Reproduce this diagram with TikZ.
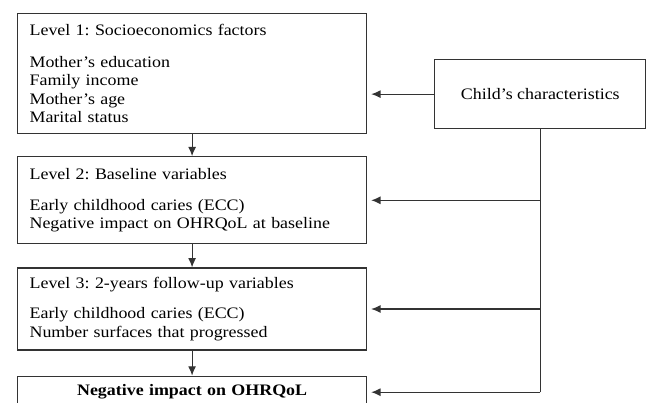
\documentclass[tikz,border=0pt]{standalone}
\usepackage{fontspec}
\setmainfont{Liberation Serif}[FakeStretch=1.12]
\usetikzlibrary{arrows.meta,positioning}
\frenchspacing

\begin{document}
\begin{tikzpicture}[
  x=0.75pt,y=-0.75pt,
  font=\fontsize{12pt}{13.9pt}\selectfont,
  box/.style={draw=black!80,line width=0.9pt,align=center,inner sep=3pt},
  level/.style={box,align=left,text width=243.75pt,inner xsep=9pt,inner ysep=0pt},
  arr/.style={-{Latex[length=7pt,width=6pt]},line width=0.9pt,draw=black!80},
  link/.style={line width=0.9pt,draw=black!80}
]
\clip (0,0) rectangle (646,403);
\node[level, minimum height=90pt, anchor=north west] (lvl1) at (17,13) {Level 1: Socioeconomics factors\\[10pt]Mother’s education\\Family income\\Mother’s age\\Marital status};
\node[level, minimum height=65.25pt, below=16.5pt of lvl1] (lvl2) {Level 2: Baseline variables\\[9pt]Early childhood caries (ECC)\\Negative impact on OHRQoL at baseline};
\node[level, minimum height=61.5pt, below=17.25pt of lvl2] (lvl3) {Level 3: 2-years follow-up variables\\[9pt]Early childhood caries (ECC)\\Number surfaces that progressed};
\node[level, align=center, minimum height=24pt, below=18.75pt of lvl3] (ohrqol) {\bfseries Negative impact on OHRQoL};
\node[box, minimum width=158.25pt, minimum height=51.75pt, right=50.25pt of lvl1, yshift=-15.4pt] (child) {Child’s characteristics};
% levels
\draw[arr] (lvl1) -- (lvl2);
\draw[arr] (lvl2) -- (lvl3);
\draw[arr] (lvl3) -- (ohrqol);
% child's characteristics
\draw[arr, shorten >=3pt] (child.west) -- (child.west -| lvl1.east);
\draw[link] (child.south) -- (child.south |- ohrqol.east);
\foreach \n in {lvl2,lvl3,ohrqol}
  \draw[arr, shorten >=3pt] (child.south |- \n.east) -- (\n.east);
\end{tikzpicture}
\end{document}
